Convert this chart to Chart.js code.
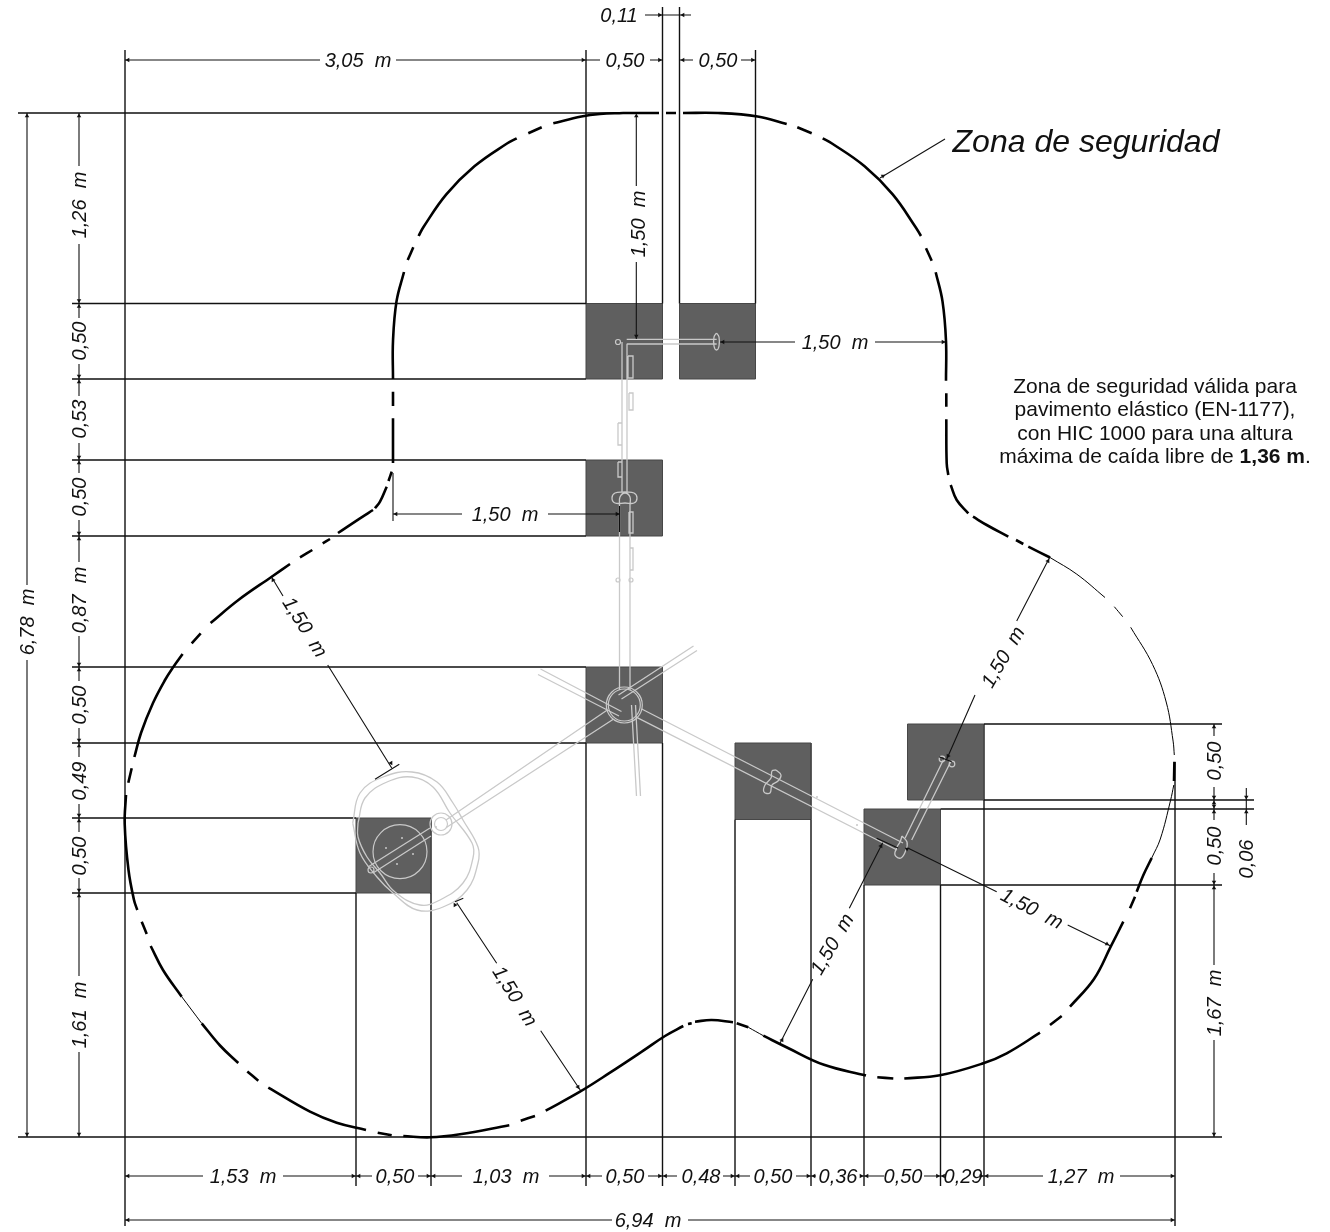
<!DOCTYPE html>
<html><head><meta charset="utf-8">
<style>html,body{margin:0;padding:0;background:#fff}canvas{display:block}</style>
<script src="https://cdn.jsdelivr.net/npm/chart.js@4"></script>
</head><body><canvas id="c" width="1330" height="1232"></canvas>
<script>
// Drawing values (drawing units, y downward)
const footings = [
 [[586,303.5],[662.5,303.5],[662.5,379],[586,379],[586,303.5]],
 [[679.5,303.5],[755.5,303.5],[755.5,379],[679.5,379],[679.5,303.5]],
 [[586,460],[662.5,460],[662.5,536],[586,536],[586,460]],
 [[586,667],[662.5,667],[662.5,743],[586,743],[586,667]],
 [[356,818],[431,818],[431,893],[356,893],[356,818]],
 [[735,743],[811,743],[811,819.5],[735,819.5],[735,743]],
 [[907.5,724],[984,724],[984,800],[907.5,800],[907.5,724]],
 [[864,809],[940.5,809],[940.5,885],[864,885],[864,809]]
];
const zoneHeavy = [
 [[623,113],[659,113]],[[666,113],[676,113]],
 [[683,113],[718,113],[757.6,116.5],[786.7,124]],
 [[797.3,127.3],[811.7,133.3]],
 [[822.7,138.3],[832,143.5],[864.6,166.3],[892.7,194.4],[915.5,227],[921,236]],
 [[926,248.3],[931.7,260.7]],
 [[935.7,272.3],[942.5,301.4],[946,341],[946,380.7]],
 [[946.3,393.3],[946.3,406.7]],
 [[946.3,419.3],[946.7,463.3],[948.3,475]],
 [[950.7,485],[956.7,500],[968.3,513.3]],
 [[973,516.7],[986.7,525],[1008.3,536.7]],
 [[1016,540],[1023.3,544]],
 [[1028.3,546.7],[1050,557.5]],
 [[1174.4,761.7],[1174,781]],
 [[1151.7,858],[1143.4,875],[1136.7,891.7]],
 [[1135,896.7],[1130,908.3]],
 [[1123.3,921.7],[1110.7,946.7],[1094,979],[1070,1006.7]],
 [[1061.7,1016],[1050,1025]],
 [[1040,1032.7],[1006.7,1053.3],[983.3,1063.3],[940,1075.3],[904.3,1078.5]],
 [[893.3,1078.5],[877.3,1077.3]],
 [[866,1075.5],[824,1064.8],[788,1048],[763.3,1035.7]],
 [[748.3,1027.3],[736.7,1023.3]],
 [[733,1022.3],[711.7,1020],[695,1021.7]],
 [[691.7,1023.3],[688,1024]],
 [[683.3,1026],[665,1036],[643.3,1050.7],[610,1072.7],[580,1091.7],[545.7,1110.7]],
 [[535,1116],[520.7,1120.7]],
 [[509.3,1125.3],[460,1134.3],[430,1137.3],[403.3,1136]],
 [[391.7,1135.3],[377.7,1132.7]],
 [[366,1130],[336.7,1122.7],[310,1111.7],[268.3,1087.7]],
 [[258.3,1080.7],[247.3,1071.5]],
 [[238.3,1063],[220,1045.5],[201.7,1023.3]],
 [[181.7,996.7],[163,970],[150.7,946]],
 [[146.7,934],[141.7,921.7]],
 [[137.3,910],[134,900],[128.5,870],[124.7,824],[126,795]],
 [[128.3,782.7],[131.7,768.3]],
 [[134.4,757],[141,733],[153,703],[165,680],[173.3,667],[182.6,654]],
 [[191.7,643.3],[200.7,633.3]],
 [[210.6,623],[238.4,600],[271.7,576.7],[290,564]],
 [[300,557.3],[312.3,550]],
 [[322.7,543.3],[330,539]],
 [[338,533],[360,518.3],[373,510]],
 [[375,508.3],[380,501.7],[386.7,486.7]],
 [[388.5,481],[391.7,471.7]],
 [[393,463],[393,418.3]],
 [[393,406],[393,391.7]],
 [[393,379],[393,341],[396.5,301.4],[404,272]],
 [[407.7,260],[413.3,247.3]],
 [[418.6,236],[423.5,227],[446.3,194.4],[474.4,166.3],[507,143.5],[516.7,138.3]],
 [[528.3,133.3],[541.7,127.3]],
 [[553.3,123.3],[581.4,116.5],[600,114],[623,113]]
];
const zoneThin = [
 [[1050,557.5],[1076.8,574.2],[1105,597.5]],
 [[1114.3,606.7],[1122.7,616.7]],
 [[1130.7,627.3],[1152.6,664.6],[1166.2,702],[1173.1,741.1],[1174.3,755]],
 [[1173.8,785],[1170.5,800.6],[1160.3,839],[1151.7,858]],
 [[763.3,1035.7],[748.3,1027.3]],
 [[201.7,1023.3],[181.7,996.7]]
];
const extensionLines = [
 [[18,113],[623,113]],[[72,303.5],[586,303.5]],[[72,379],[586,379]],[[72,460],[586,460]],[[72,536],[586,536]],
 [[72,667],[586,667]],[[72,743],[586,743]],[[72,818],[356,818]],[[72,893],[356,893]],[[18,1137],[1222,1137]],
 [[984,724],[1222,724]],[[984,800],[1254,800]],[[940.5,809],[1254,809]],[[940.5,885],[1222,885]],
 [[125,50],[125,1226]],[[586,50],[586,303.5]],[[586,743],[586,1186]],[[662.5,7],[662.5,303.5]],[[662.5,743],[662.5,1186]],
 [[679.5,7],[679.5,303.5]],[[755.5,50],[755.5,303.5]],[[356,893],[356,1186]],[[431,893],[431,1186]],
 [[735,819.5],[735,1186]],[[811,819.5],[811,1186]],[[864,885],[864,1186]],[[940.5,885],[940.5,1186]],
 [[984,800],[984,1186]],[[1175,762],[1175,1226]]
];
const dimensionLines = [
 [[125,60],[320,60]],[[396,60],[600,60]],[[650,60],[662.5,60]],[[679.5,60],[693,60]],[[741,60],[755.5,60]],
 [[645,15],[691,15]],
 [[125,1176],[203,1176]],[[283,1176],[372,1176]],[[418,1176],[462,1176]],[[549,1176],[602,1176]],[[648,1176],[677,1176]],
 [[723,1176],[750,1176]],[[796,1176],[816,1176]],[[860,1176],[884,1176]],[[924,1176],[944,1176]],[[982,1176],[1043,1176]],[[1120,1176],[1175,1176]],
 [[125,1220],[612,1220]],[[688,1220],[1175,1220]],
 [[79,113],[79,166]],[[79,244],[79,318]],[[79,364],[79,396]],[[79,443],[79,473]],[[79,520],[79,562]],
 [[79,636],[79,681]],[[79,728],[79,757]],[[79,804],[79,832]],[[79,878],[79,976]],[[79,1052],[79,1137]],
 [[27,113],[27,585]],[[27,660],[27,1137]],
 [[1214,724],[1214,736]],[[1214,787],[1214,820]],[[1214,873],[1214,965]],[[1214,1040],[1214,1137]],
 [[1246.3,788],[1246.3,825]],
 [[636.3,116],[636.3,186]],[[636.3,262],[636.3,339]],
 [[720,342],[795,342]],[[875,342],[946,342]],
 [[393,514],[462,514]],[[548,514],[620,514]],[[393,473],[393,521]],[[619.5,506],[619.5,532]],
 [[880,178],[945,139]],
 [[271.7,577.3],[283,596]],[[327.7,665],[391.7,768]],[[375,779.3],[399.3,764.3]],
 [[456.7,902.7],[496.7,963.3]],[[540.7,1030.7],[580.7,1090.7]],[[455,901.7],[463.3,898.3]],
 [[780,1043.3],[812.7,979.3]],[[849.3,908.3],[882.7,842.7]],[[876.7,838.3],[898,848]],
 [[908.3,848.3],[996.7,891.7]],[[1067.7,925],[1110.7,946]],
 [[1050,556.7],[1016.7,621]],[[975,695],[946.7,759.3]],[[939,756.7],[951.7,761.7]]
];
const stopsBottom = [125,356,431,586,662.5,735,811,864,940.5,984,1175];
const stopsTop = [125,586];
const stopsLeft = [113,303.5,379,460,536,667,743,818,893,1137];
const stopsRight = [724,800,809,885,1137];
const arrowPoints = [
 [659.5,60,90],[683,60,270],[752.5,60,90],[659.5,15,90],[683,15,270],
 [128,1220,270],[1172,1220,90],[27,116,0],[27,1134,180],
 [1246.3,797,180],[1246.3,812,0],[636.3,116,0],[636.3,336,180],
 [723,342,270],[943,342,90],[396,514,270],[617,514,90],
 [883,176,300],[948,756,210],[1048,561,30],[881,846,30],[455,905,330],[578,1087,150],[907,849,300],[1107,944,120],
 [391,763,150],[273,580,330],[782,1040,30]
];
const gearLines = [
 [[626.7,339.3],[716.7,339.3]],[[626.7,344],[716.7,344]],
 [[622,342],[622,492]],[[627,344],[627,492]],
 [[619.5,505],[619.5,690]],[[630,505],[630,690]],
 [[628,356],[633,356],[633,378],[628,378],[628,356]],[[629,393],[633,393],[633,410],[629,410],[629,393]],
 [[618,423],[622,423],[622,445],[618,445],[618,423]],[[618,462],[622,462],[622,477],[618,477],[618,462]],
 [[629,512],[633,512],[633,533],[629,533],[629,512]],[[630,548],[633,548],[633,570],[630,570],[630,548]],
 [[618.5,695],[693.5,646]],[[621.5,699],[697,650.5]],
 [[619,716],[538,674.5]],[[621.5,711.5],[540.5,669]],
 [[631.5,705],[636.5,796]],[[635.5,705],[640.5,796]],
 [[607.3,710],[446,820]],[[613.3,719.3],[446.7,827.3]],
 [[641.7,709],[903,843]],[[636.7,717.3],[897,850]],
 [[905,838.3],[943.3,760]],[[911.7,840],[950.7,761.7]],
 [[368,867],[430,828]],[[373,873],[431,836]]
];
const gearCurves = [
 [[352.7,823],[360,793],[383,777],[412,772],[437,782],[453,803],[463,820],[478,847],[478,863],[467,890],[443,907],[417,910],[393,893],[377,877],[360,853],[352.7,823]],
 [[358,823],[365,798],[387,782],[412,777],[433,787],[450,813],[472,843],[473,858],[463,883],[440,900],[420,905],[395,892],[380,873],[367,857],[358,837],[358,823]],
 [[619.5,505],[620,497],[625,493],[630,497],[630,505]],
 [[625,492],[634,493],[637,498],[634,503],[625,503],[615,503],[612,498],[615,493],[625,492]],
 [[716.5,333],[719,337],[719,346],[716.5,350],[714,346],[714,337],[716.5,333]],
 [[776,770],[781,775],[778,781],[772,785],[770,793],[764,792],[765,785],[771,778],[772,771],[776,770]],
 [[902,836],[907,842],[906,850],[901,858],[895,855],[897,847],[900,842],[902,836]]
];
const gearCircles = [[400,851.7],[441,824],[441,824],[371,870],[624.3,705],[624.3,705],[618,342],[618,580],[631,580],[942,759],[952,764]];
const gearCircleRadii = [27,11,6.5,3,18,16,2.5,2,2,2.8,2.8];
const gearDots = [[402,838],[386,848],[413,854],[397,864],[817,797],[857,825],[436,827]];
const labelTexts = ["3,05  m","0,50","0,50","0,11","1,53  m","0,50","1,03  m","0,50","0,48","0,50","0,36","0,50","0,29","1,27  m","6,94  m",
 "1,26  m","0,50","0,53","0,50","0,87  m","0,50","0,49","0,50","1,61  m","6,78  m","0,50","0,50","1,67  m","0,06",
 "1,50  m","1,50  m","1,50  m","1,50  m","1,50  m","1,50  m","1,50  m","1,50  m"];
const labelX = [358,625,718,619,243,395,506,625,701,773,838,903,963,1081,648,
 79,79,79,79,79,79,79,79,79,27,1214,1214,1214,1246,
 638,835,505,305,515,832,1032,1003];
const labelY = [60,60,60,15,1176,1176,1176,1176,1176,1176,1176,1176,1176,1176,1220,
 205,341,419,497,600,705,781,856,1015,622,761,846,1003,859,
 224,342,514,627,996,944,908.5,657];
const labelAngles = [0,0,0,0,0,0,0,0,0,0,0,0,0,0,0,
 -90,-90,-90,-90,-90,-90,-90,-90,-90,-90,-90,-90,-90,-90,
 -90,0,0,58,58,-60,27,-60];
const calloutText = "Zona de seguridad";
const calloutAt = [1086,143];
const noteLines = ["Zona de seguridad válida para","pavimento elástico (EN-1177),","con HIC 1000 para una altura"];
const noteLastRuns = ["máxima de caída libre de ","1,36 m","."];
const noteAt = [1155,387];

const INK='#111', GEAR='#c9c9c9';
const pts = lists => { const out=[]; lists.forEach((l,i)=>{ if(i) out.push({x:null,y:null}); l.forEach(p=>out.push({x:p[0],y:p[1]})); }); return out; };
const lineDs = (lists,color,w,tension,order)=>({type:'scatter',showLine:true,data:pts(lists),borderColor:color,borderWidth:w,tension,pointRadius:0,fill:false,order,borderCapStyle:'butt',spanGaps:false});
const arrows = arrowPoints.slice();
const chain=(stops,fixed,horizontal,o)=>stops.forEach((s,i)=>{
  const P=(v,a)=>horizontal?[v,fixed,a]:[fixed,v,a];
  if(i>0) arrows.push(horizontal?P(s-o,90):P(s-o,180));
  if(i<stops.length-1) arrows.push(horizontal?P(s+o,270):P(s+o,0));
});
chain(stopsBottom,1176,true,3); chain(stopsTop,60,true,3); chain(stopsLeft,79,false,3); chain(stopsRight,1214,false,3);

const datasets=[
 ...footings.map(f=>({type:'scatter',showLine:true,data:pts([f]),borderColor:'#474747',borderWidth:1,backgroundColor:'#5f5f5f',fill:'shape',pointRadius:0,tension:0,order:6})),
 lineDs(extensionLines,INK,1.4,0,5),
 lineDs(gearLines,GEAR,1.3,0,4),
 lineDs(gearCurves,GEAR,1.3,0.4,4),
 {type:'scatter',data:gearCircles.map(p=>({x:p[0],y:p[1]})),pointRadius:gearCircleRadii,pointBorderColor:GEAR,pointBackgroundColor:'rgba(0,0,0,0)',pointBorderWidth:1.2,order:4},
 {type:'scatter',data:gearDots.map(p=>({x:p[0],y:p[1]})),pointRadius:1,pointBorderColor:GEAR,pointBackgroundColor:GEAR,pointBorderWidth:0,order:4},
 lineDs(dimensionLines,INK,1.1,0,3),
 {type:'scatter',data:arrows.map(a=>({x:a[0],y:a[1]})),pointStyle:'triangle',pointRadius:2.6,pointRotation:arrows.map(a=>a[2]),pointBackgroundColor:INK,pointBorderColor:INK,pointBorderWidth:0,order:2},
 lineDs(zoneThin,'#000',1,0.4,1),
 lineDs(zoneHeavy,'#000',2.6,0.4,0)
];
const textPlugin={id:'drawingText',afterDatasetsDraw(chart){
  const {ctx,scales:{x,y}}=chart;
  ctx.save(); ctx.fillStyle='#111'; ctx.textBaseline='middle'; ctx.textAlign='center';
  ctx.font='italic 20px "Liberation Sans"';
  labelTexts.forEach((t,i)=>{
    ctx.save(); ctx.translate(x.getPixelForValue(labelX[i]),y.getPixelForValue(labelY[i]));
    ctx.rotate(labelAngles[i]*Math.PI/180); ctx.fillText(t,0,1); ctx.restore();
  });
  ctx.font='italic 32px "Liberation Sans"';
  ctx.fillText(calloutText,x.getPixelForValue(calloutAt[0]),y.getPixelForValue(calloutAt[1]));
  const reg='21px "Liberation Sans"', bold='bold 21px "Liberation Sans"';
  ctx.font=reg;
  const nx=x.getPixelForValue(noteAt[0]); const ny=y.getPixelForValue(noteAt[1]);
  noteLines.forEach((t,i)=>ctx.fillText(t,nx,ny+i*23.4));
  const fonts=[reg,bold,reg];
  const widths=noteLastRuns.map((t,i)=>{ctx.font=fonts[i];return ctx.measureText(t).width;});
  let cx=nx-widths.reduce((a,b)=>a+b,0)/2; ctx.textAlign='left';
  noteLastRuns.forEach((t,i)=>{ctx.font=fonts[i];ctx.fillText(t,cx,ny+3*23.4);cx+=widths[i];});
  ctx.restore();
}};
new Chart(document.getElementById('c'),{
 type:'scatter',data:{datasets},plugins:[textPlugin],
 options:{responsive:false,animation:false,devicePixelRatio:1,events:[],layout:{padding:0,autoPadding:false},
  plugins:{legend:{display:false},tooltip:{enabled:false}},
  scales:{x:{type:'linear',min:0,max:1330,display:false},y:{type:'linear',min:0,max:1232,reverse:true,display:false}}}
});
</script></body></html>
